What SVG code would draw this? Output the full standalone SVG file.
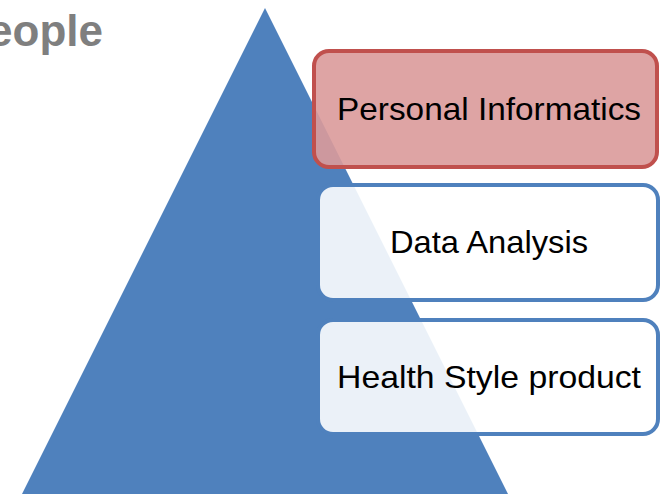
<svg xmlns="http://www.w3.org/2000/svg" width="660" height="494" viewBox="0 0 660 494">
<style>
.lbl{font-family:"Liberation Sans",Arial,sans-serif;font-size:32px;fill:#000;text-anchor:middle}
.box{stroke-width:4}
.blue{fill:#fff;fill-opacity:.89;stroke:#4F81BD}
.pink{fill:#DA9A9A;fill-opacity:.9;stroke:#C0504D}
</style>
<rect width="660" height="494" fill="#fff"/>
<g id="title"><text x="103" y="46" font-family="Liberation Sans,Arial,sans-serif" font-weight="bold" font-size="44" fill="#7F7F7F" text-anchor="end">eople</text></g>
<g id="pyramid"><polygon points="265,8 508,494 22,494" fill="#4F81BD"/></g>
<g id="connectors"></g>
<g id="personal-informatics">
<rect class="box pink" x="314" y="51" width="343" height="116" rx="15"/>
<text class="lbl" x="489" y="120" textLength="304" lengthAdjust="spacingAndGlyphs">Personal Informatics</text>
</g>
<g id="data-analysis">
<rect class="box blue" x="318" y="185" width="340" height="115" rx="15"/>
<text class="lbl" x="489" y="253" textLength="198" lengthAdjust="spacingAndGlyphs">Data Analysis</text>
</g>
<g id="health-style-product">
<rect class="box blue" x="318" y="320" width="340" height="114" rx="15"/>
<text class="lbl" x="489" y="388" textLength="304" lengthAdjust="spacingAndGlyphs">Health Style product</text>
</g>
</svg>
